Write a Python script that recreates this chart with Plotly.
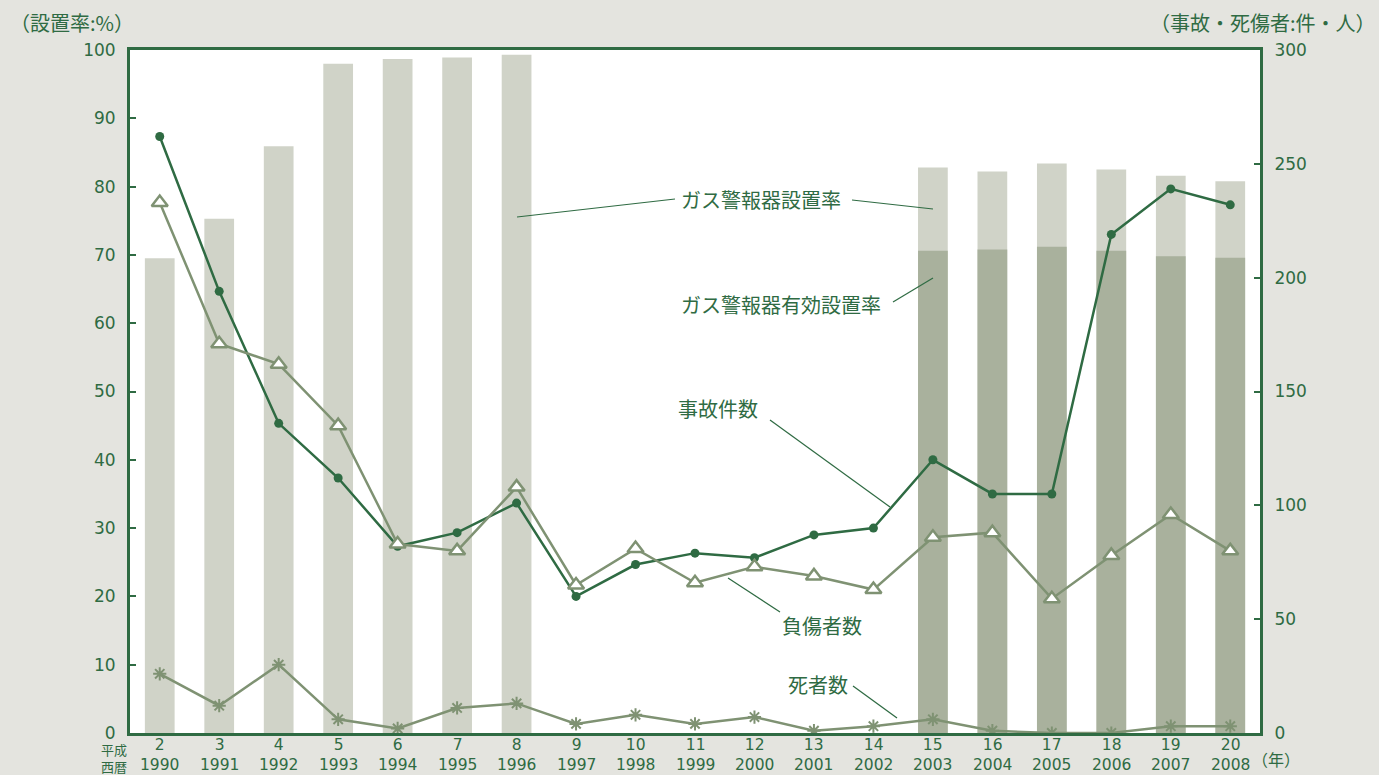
import plotly.graph_objects as go

# ---- data ----
heisei = ["2", "3", "4", "5", "6", "7", "8", "9", "10", "11", "12", "13", "14", "15", "16", "17", "18", "19", "20"]
seireki = ["1990", "1991", "1992", "1993", "1994", "1995", "1996", "1997", "1998", "1999",
           "2000", "2001", "2002", "2003", "2004", "2005", "2006", "2007", "2008"]
install_rate = [69.5, 75.3, 85.9, 98.0, 98.7, 98.9, 99.3, None, None, None, None, None, None,
                82.8, 82.2, 83.4, 82.5, 81.6, 80.8]
effective_rate = [None, None, None, None, None, None, None, None, None, None, None, None, None,
                  70.6, 70.8, 71.2, 70.6, 69.8, 69.6]
accidents = [262, 194, 136, 112, 82, 88, 101, 60, 74, 79, 77, 87, 90, 120, 105, 105, 219, 239, 232]
injured = [233, 171, 162, 135, 83, 80, 108, 65, 81, 66, 73, 69, 63, 86, 88, 59, 78, 96, 80]
deaths = [26, 12, 30, 6, 2, 11, 13, 4, 8, 4, 7, 1, 3, 6, 1, 0, 0, 3, 3]

cats = seireki

GREEN = "#2f6b43"
LIGHT_LINE = "#7f9273"
BAR_LIGHT = "#d0d3c8"
BAR_DARK = "#a9b19d"
BG = "#e4e4df"
FONT = "Noto Sans CJK JP"
NUMFONT = "DejaVu Sans"

W, H = 1379, 775
L, R, T, B = 130, 1260, 50, 733


def px(x):
    return (x - L) / (R - L)


def py(y):
    return (B - y) / (B - T)


fig = go.Figure()
fig.add_trace(go.Bar(x=cats, y=install_rate, marker_color=BAR_LIGHT, width=0.5,
                     marker_line_width=0, name="ガス警報器設置率"))
fig.add_trace(go.Bar(x=cats, y=effective_rate, marker_color=BAR_DARK, width=0.5,
                     marker_line_width=0, name="ガス警報器有効設置率"))
fig.add_trace(go.Scatter(x=cats, y=accidents, yaxis="y2", mode="lines+markers",
                         line=dict(color=GREEN, width=2.5),
                         marker=dict(symbol="circle", size=9, color=GREEN), name="事故件数"))
fig.add_trace(go.Scatter(x=cats, y=injured, yaxis="y2", mode="lines+markers",
                         line=dict(color=LIGHT_LINE, width=2.5),
                         marker=dict(symbol="triangle-up", size=14, color="white",
                                     line=dict(color=LIGHT_LINE, width=2.5)), name="負傷者数"))
fig.add_trace(go.Scatter(x=cats, y=deaths, yaxis="y2", mode="lines+markers",
                         line=dict(color=LIGHT_LINE, width=2.5),
                         marker=dict(symbol="asterisk-open", size=11,
                                     line=dict(color=LIGHT_LINE, width=2)), name="死者数"))

tickfont = dict(family=NUMFONT, size=17, color=GREEN)

fig.update_layout(
    width=W, height=H,
    margin=dict(l=L, r=W - R, t=T, b=H - B, autoexpand=False),
    paper_bgcolor=BG, plot_bgcolor="white",
    barmode="overlay", showlegend=False,
    xaxis=dict(type="category", range=[-0.5, len(cats) - 0.5], showline=True, linecolor=GREEN,
               linewidth=3, mirror=True, ticks="", showticklabels=False,
               showgrid=False, zeroline=False),
    yaxis=dict(range=[0, 100], dtick=10, showline=True, linecolor=GREEN, linewidth=3,
               ticks="inside", ticklen=6, tickcolor=GREEN, tickwidth=1.5,
               tickfont=tickfont, showgrid=False, zeroline=False, ticklabelstandoff=8),
    yaxis2=dict(range=[0, 300], dtick=50, overlaying="y", side="right", showline=True,
                linecolor=GREEN, linewidth=3, ticks="inside", ticklen=6, tickcolor=GREEN,
                tickwidth=1.5, tickfont=tickfont, showgrid=False, zeroline=False,
                ticklabelstandoff=8),
    font=dict(family=FONT, color=GREEN),
)


def label(text, x, y, size=20, xanchor="center", family=FONT, pad=1):
    fig.add_annotation(text=text, x=px(x), y=py(y), xref="paper", yref="paper",
                       showarrow=False, xanchor=xanchor, yanchor="middle", borderpad=pad,
                       font=dict(family=family, size=size, color=GREEN))


def leader(x0, y0, x1, y1):
    fig.add_shape(type="line", xref="paper", yref="paper",
                  x0=px(x0), y0=py(y0), x1=px(x1), y1=py(y1),
                  line=dict(color=GREEN, width=1.2))


# two-line category labels (Heisei year / Western year), placed by category index
for i, (h, s) in enumerate(zip(heisei, seireki)):
    fig.add_annotation(text=f"{h}<br>{s}", x=i, xref="x", y=py(755), yref="paper",
                       showarrow=False, yanchor="middle", borderpad=0,
                       font=dict(family=NUMFONT, size=15.5, color=GREEN))

label("ガス警報器設置率", 761, 200)
label("ガス警報器有効設置率", 781, 304)
label("事故件数", 718, 408)
label("負傷者数", 822, 625)
label("死者数", 818, 684)

leader(517, 217, 675, 199)
leader(852, 200, 933, 209)
leader(893, 302, 933, 278)
leader(770, 420, 890, 507)
leader(780, 612, 728, 578)
leader(853, 686, 897, 718)

label("（設置率:%）", 8, 22, size=20, xanchor="left")
label("（事故・死傷者:件・人）", 1378, 22, size=20, xanchor="right")
label("平成<br>西暦", 114, 758, size=13, pad=0)
label("（年）", 1276, 759, size=16)

fig.write_html(
    "out.html",
    config={"displayModeBar": False},
    post_script="document.body.style.margin='0';document.body.style.padding='0';"
                "document.body.style.background='%s';" % BG,
)
